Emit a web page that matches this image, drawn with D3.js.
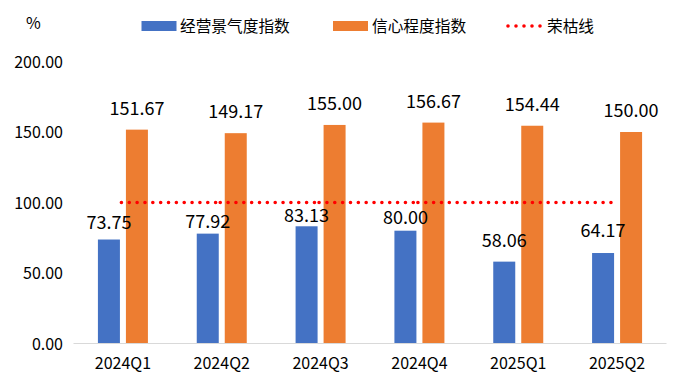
<!DOCTYPE html>
<html>
<head>
<meta charset="utf-8">
<script src="https://cdn.jsdelivr.net/npm/d3@7"></script>
<style>
  html, body { margin: 0; padding: 0; background: #fff; }
  svg { display: block; font-family: "Noto Sans CJK SC", "Microsoft YaHei", sans-serif; }
</style>
</head>
<body>
<svg id="chart" width="682" height="383"></svg>
<script>
// ---- data ----
const categories = ["2024Q1", "2024Q2", "2024Q3", "2024Q4", "2025Q1", "2025Q2"];
const businessIndex = [73.75, 77.92, 83.13, 80.00, 58.06, 64.17];   // 经营景气度指数
const confidenceIndex = [151.67, 149.17, 155.00, 156.67, 154.44, 150.00]; // 信心程度指数
const boomBustLine = [100, 100, 100, 100, 100, 100]; // 荣枯线
const seriesNames = ["经营景气度指数", "信心程度指数", "荣枯线"];
const yTicks = [0, 50, 100, 150, 200];
const unitLabel = "%";

// ---- layout / style (not data) ----
const colors = ["#4472C4", "#ED7D31", "#FF0000"];
const blueLabelGap = [10.5, 6, 4, 6.5, 15, 16.5]; // manual label nudges as in the original
const orangeLabelGap = 15;

const svg = d3.select("#chart");
const x = d3.scaleBand().domain(categories).range([73.5, 666.5]).padding(0);
const xi = d3.scaleBand().domain([0, 1]).range([-25, 25]).paddingInner(2 - 50 / 28).paddingOuter(0);
const y = d3.scaleLinear().domain([0, 200]).range([343.5, 61.5]);
const cx = c => x(c) + x.bandwidth() / 2;

// y axis labels
const yAxis = d3.axisLeft(y).tickValues(yTicks).tickFormat(d3.format(".2f")).tickSize(0).tickPadding(0);
const gy = svg.append("g").attr("transform", "translate(63,0)").call(yAxis);
gy.select(".domain").remove();
gy.selectAll("text").attr("font-size", 16).attr("fill", "#000")
  .attr("font-family", '"Noto Sans CJK SC", sans-serif').attr("dy", "0.35em");

// bars
const series = [businessIndex, confidenceIndex];
series.forEach((vals, si) => {
  svg.append("g").selectAll("rect").data(vals).join("rect")
    .attr("x", (d, i) => cx(categories[i]) + xi(si))
    .attr("width", xi.bandwidth())
    .attr("y", d => y(d))
    .attr("height", d => y(0) - y(d))
    .attr("fill", colors[si]);
});

// x axis baseline + labels
const xAxis = d3.axisBottom(x).tickSize(0).tickPadding(0);
const gx = svg.append("g").attr("transform", `translate(0,${y(0)})`).call(xAxis);
gx.select(".domain").attr("stroke", "#D9D9D9").attr("stroke-width", 1).attr("d", `M${x.range()[0]},0H${x.range()[1]}`);
gx.selectAll("text").attr("font-size", 16).attr("fill", "#000")
  .attr("font-family", '"Noto Sans CJK SC", sans-serif').attr("dy", null).attr("y", 25.5);

// boom-bust dotted line, drawn segment by segment (like the original)
const lineG = svg.append("g");
for (let i = 0; i < categories.length - 1; i++) {
  lineG.append("path")
    .attr("d", d3.line()([[cx(categories[i]) - 1.5, y(boomBustLine[i])], [cx(categories[i + 1]) - 1.5, y(boomBustLine[i + 1])]]))
    .attr("stroke", colors[2]).attr("stroke-width", 3.6)
    .attr("stroke-linecap", "round").attr("stroke-dasharray", "0 7.85").attr("fill", "none");
}

// value labels
const fmt = d3.format(".2f");
svg.append("g").selectAll("text").data(businessIndex).join("text")
  .attr("x", (d, i) => cx(categories[i]) + xi(0) + xi.bandwidth() / 2)
  .attr("y", (d, i) => y(d) - blueLabelGap[i])
  .attr("text-anchor", "middle").attr("font-size", 18).attr("fill", "#000")
  .text(d => fmt(d));
svg.append("g").selectAll("text").data(confidenceIndex).join("text")
  .attr("x", (d, i) => cx(categories[i]) + xi(1) + xi.bandwidth() / 2)
  .attr("y", d => y(d) - orangeLabelGap)
  .attr("text-anchor", "middle").attr("font-size", 18).attr("fill", "#000")
  .text(d => fmt(d));

// unit label
svg.append("text").attr("x", 26).attr("y", 29).attr("font-size", 16).attr("fill", "#000").text(unitLabel);

// legend
const legend = svg.append("g");
const legendItems = [
  { sx: 141.5, tx: 180 },
  { sx: 333, tx: 372 },
  { sx: 508, tx: 547 }
];
legendItems.forEach((it, i) => {
  if (i < 2) {
    legend.append("rect").attr("x", it.sx).attr("y", 21).attr("width", 35).attr("height", 10).attr("fill", colors[i]);
  } else {
    legend.append("path").attr("d", `M${it.sx},26H${it.sx + 33}`)
      .attr("stroke", colors[2]).attr("stroke-width", 3.6).attr("stroke-linecap", "round")
      .attr("stroke-dasharray", "0 8").attr("fill", "none");
  }
  legend.append("text").attr("x", it.tx).attr("y", 32).attr("font-size", 15.7).attr("fill", "#000").text(seriesNames[i]);
});
</script>
</body>
</html>
